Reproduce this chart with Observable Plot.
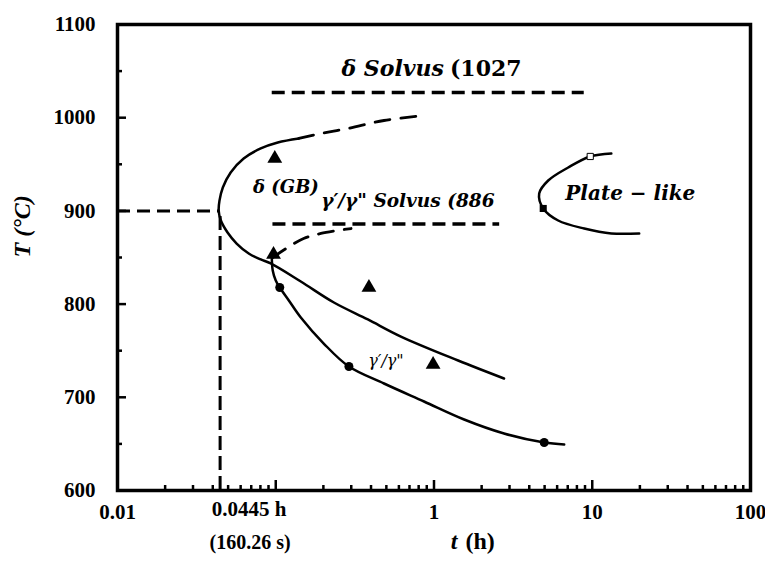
<!DOCTYPE html>
<html><head><meta charset="utf-8">
<script src="https://cdn.jsdelivr.net/npm/d3@7"></script>
<script src="https://cdn.jsdelivr.net/npm/@observablehq/plot@0.6"></script>
<style>
html,body{margin:0;padding:0;background:#fff;}
#chart svg{display:block;}
</style>
</head><body><div id="chart"></div>
<script>
// ---- axis ticks ----
const xTickValues = [0.01, 1, 10, 100];
const yTickValues = [600, 700, 800, 900, 1000, 1100];
const xMajorTicks = [0.1, 1, 10];
const xMinorTicks = [0.02,0.03,0.04,0.05,0.06,0.07,0.08,0.09,
                     0.2,0.3,0.4,0.5,0.6,0.7,0.8,0.9,
                     2,3,4,5,6,7,8,9,
                     20,30,40,50,60,70,80,90];
const yMajorTicks = [700, 800, 900, 1000];
const yMinorTicks = [650, 750, 850, 950, 1050];

// ---- delta (GB) C-curve : time (h), temperature (°C) ----
const deltaSolidT    = [0.140, 0.103, 0.0804, 0.0627, 0.0519, 0.0463, 0.0441, 0.0436, 0.0448, 0.0496, 0.0566, 0.0675, 0.0804, 0.0929, 0.144, 0.233, 0.382, 0.618, 1.42, 2.77];
const deltaSolidTemp = [977.7, 973.4, 967.0, 956.2, 941.2, 925.1, 911.0, 900.4, 890.5, 876.8, 865.0, 854.3, 847.9, 843.6, 824.2, 801.7, 783.5, 765.2, 739.5, 720.2];
const deltaDashT     = [0.140, 0.193, 0.286, 0.483, 0.865];
const deltaDashTemp  = [977.7, 983.0, 988.4, 997.0, 1002.4];

// ---- gamma'/gamma'' curve ----
const gammaSolidT    = [0.0944, 0.0957, 0.100, 0.106, 0.121, 0.144, 0.201, 0.290, 0.483, 0.865, 1.55, 2.77, 4.97, 6.65];
const gammaSolidTemp = [851.1, 836.1, 825.3, 817.8, 803.9, 785.6, 757.7, 733.0, 714.8, 695.5, 676.2, 661.2, 651.5, 649.4];
const gammaDashT     = [0.0957, 0.119, 0.150, 0.193, 0.299];
const gammaDashTemp  = [850.0, 860.7, 870.4, 875.8, 881.1];

// ---- plate-like delta C-curve ----
const plateT    = [13.2, 9.71, 7.05, 5.27, 4.62, 4.90, 6.09, 8.90, 13.2, 19.8];
const plateTemp = [961.6, 958.4, 946.6, 932.6, 918.7, 902.6, 889.7, 881.1, 875.8, 875.8];

// ---- experimental points ----
const triangleT    = [0.0986, 0.0968, 0.388, 0.987];
const triangleTemp = [956.2, 853.2, 817.8, 735.2];
const circleT      = [0.106, 0.290, 4.97];
const circleTemp   = [817.8, 733.0, 651.5];
const filledSquareT = [4.90], filledSquareTemp = [902.6];
const openSquareT   = [9.71], openSquareTemp   = [958.4];

// ---- solvus lines and nose guide ----
const solvusTemp  = [1027, 886];
const solvusStart = [0.095, 0.096];
const solvusEnd   = [8.9, 2.6];
const noseTime = 0.0445, noseTemp = 900;

// ---- annotations ----
const annText = ["δ (GB)", "γ′/γ\" Solvus (886", "Plate − like"];
const annT    = [0.116, 0.684, 17.4];
const annTemp = [925.5, 910.1, 918.7];
const annSize = [18, 18.5, 20];
const deltaSolvusWord = ["δ Solvus"], deltaSolvusValue = ["(1027"];
const deltaSolvusLabelT = 1.19, deltaSolvusLabelTemp = 1052.8;
const smallText = ["γ′/γ\""], smallT = [0.497], smallTemp = [739.5];

const W = 765, H = 566, mL = 117, mR = 15, mT = 24, mB = 76;
const iw = W - mL - mR, ih = H - mT - mB;
const serif = "'Liberation Serif', 'DejaVu Serif', serif";
const mathFont = "'DejaVu Serif', serif";

const pts = (ts, vs) => ts.map((t, i) => ({t, v: vs[i]}));

const chart = Plot.plot({
  width: W, height: H,
  marginLeft: mL, marginRight: mR, marginTop: mT, marginBottom: mB,
  style: {fontFamily: serif, color: "black", background: "white"},
  x: {type: "log", domain: [0.01, 100]},
  y: {domain: [600, 1100]},
  marks: [
    // guides
    Plot.ruleY([noseTemp], {y: d => d, x1: 0.01, x2: noseTime, stroke: "black", strokeWidth: 3, strokeDasharray: "13,7"}),
    Plot.ruleX([noseTime], {x: d => d, y1: 600, y2: noseTemp, stroke: "black", strokeWidth: 3, strokeDasharray: "14,6"}),
    Plot.ruleY(solvusTemp, {y: d => d, x1: (d, i) => solvusStart[i], x2: (d, i) => solvusEnd[i], stroke: "black", strokeWidth: 3.5, strokeDasharray: "13,7"}),
    // curves
    Plot.line(pts(deltaSolidT, deltaSolidTemp), {x: "t", y: "v", curve: "catmull-rom", stroke: "black", strokeWidth: 2.5}),
    Plot.line(pts(deltaDashT, deltaDashTemp), {x: "t", y: "v", curve: "catmull-rom", stroke: "black", strokeWidth: 2.8, strokeDasharray: "15,11"}),
    Plot.line(pts(gammaDashT, gammaDashTemp), {x: "t", y: "v", curve: "catmull-rom", stroke: "black", strokeWidth: 2.8, strokeDasharray: "15,11"}),
    Plot.line(pts(gammaSolidT, gammaSolidTemp), {x: "t", y: "v", curve: "catmull-rom", stroke: "black", strokeWidth: 2.5}),
    Plot.line(pts(plateT, plateTemp), {x: "t", y: "v", curve: "catmull-rom", stroke: "black", strokeWidth: 2.5}),
    // markers
    Plot.dot(pts(triangleT, triangleTemp), {x: "t", y: "v", symbol: "triangle", r: 5.5, fill: "black"}),
    Plot.dot(pts(circleT, circleTemp), {x: "t", y: "v", r: 4.5, fill: "black"}),
    Plot.dot(pts(filledSquareT, filledSquareTemp), {x: "t", y: "v", symbol: "square", r: 4, fill: "black"}),
    Plot.dot(pts(openSquareT, openSquareTemp), {x: "t", y: "v", symbol: "square", r: 3.5, fill: "white", stroke: "black", strokeWidth: 1}),
    // ticks (inward)
    Plot.tickX(xMajorTicks, {x: d => d, insetTop: ih - 10, stroke: "black", strokeWidth: 2.5}),
    Plot.tickX(xMinorTicks, {x: d => d, insetTop: ih - 5, stroke: "black", strokeWidth: 2.5}),
    Plot.tickY(yMajorTicks, {y: d => d, insetRight: iw - 9, stroke: "black", strokeWidth: 2.5}),
    Plot.tickY(yMinorTicks, {y: d => d, insetRight: iw - 5, stroke: "black", strokeWidth: 2.5}),
    Plot.frame({stroke: "black", strokeWidth: 3.5}),
    // axes labels
    Plot.axisX({ticks: xTickValues, tickSize: 0, tickPadding: 14, tickFormat: d => d3.format("~g")(d), label: null, fontSize: 21, fontWeight: "bold", fontFamily: serif}),
    Plot.axisY({ticks: yTickValues, tickSize: 0, tickPadding: 22, tickFormat: d => String(d), label: null, fontSize: 21, fontWeight: "bold", fontFamily: serif}),
    Plot.text(["0.0445 h"], {x: () => noseTime, frameAnchor: "bottom", dx: 29, dy: 25, fontSize: 21, fontWeight: "bold", fontFamily: serif}),
    Plot.text(["(160.26 s)"], {x: () => noseTime, frameAnchor: "bottom", dx: 30, dy: 58, fontSize: 20, fontWeight: "bold", fontFamily: serif}),
    Plot.text(["t"], {x: () => 1.7, frameAnchor: "bottom", textAnchor: "end", dx: -13, dy: 58, fontSize: 24, fontWeight: "bold", fontStyle: "italic", fontFamily: serif}),
    Plot.text(["(h)"], {x: () => 1.7, frameAnchor: "bottom", textAnchor: "start", dx: -5, dy: 58, fontSize: 24, fontWeight: "bold", fontFamily: serif}),
    Plot.text(["T (°C)"], {frameAnchor: "left", dx: -95, rotate: -90, fontSize: 24, fontWeight: "bold", fontStyle: "italic", fontFamily: serif}),
    // annotations
    Plot.text(deltaSolvusWord, {x: () => deltaSolvusLabelT, y: () => deltaSolvusLabelTemp, text: d => d, textAnchor: "end", dx: -2, fontSize: 22, fontWeight: "bold", fontStyle: "italic", fontFamily: mathFont, fill: "black"}),
    Plot.text(deltaSolvusValue, {x: () => deltaSolvusLabelT, y: () => deltaSolvusLabelTemp, text: d => d, textAnchor: "start", dx: 4, fontSize: 22, fontWeight: "bold", fontFamily: mathFont, fill: "black"}),
    Plot.text(annText, {x: (d, i) => annT[i], y: (d, i) => annTemp[i], text: d => d, fontSize: (d, i) => annSize[i], fontWeight: "bold", fontStyle: "italic", fontFamily: mathFont, fill: "black"}),
    Plot.text(smallText, {x: (d, i) => smallT[i], y: (d, i) => smallTemp[i], text: d => d, fontSize: 16, fontStyle: "italic", fontFamily: mathFont, fill: "black", stroke: "white", strokeWidth: 8})
  ]
});
document.getElementById("chart").appendChild(chart);
</script>
</body></html>
